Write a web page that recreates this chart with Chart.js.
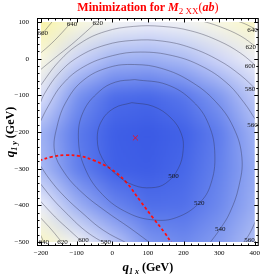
<!DOCTYPE html>
<html>
<head>
<meta charset="utf-8">
<script src="https://cdn.jsdelivr.net/npm/chart.js@4"></script>
<style>
html,body{margin:0;padding:0;background:#fff;}
#wrap{width:267px;height:277px;position:relative;}
</style>
</head>
<body>
<div id="wrap"><canvas id="chart"></canvas></div>
<script>
// density values, on a 100 GeV grid (rows top to bottom)
const gridX = [-200, -100, 0, 100, 200, 300, 400];
const gridY = [100, 0, -100, -200, -300, -400, -500];
const fieldRows = [
  [675, 635, 614, 604, 613, 630, 650],
  [630, 579, 558, 555, 563, 582, 607],
  [590, 537, 510, 505, 519, 542, 574],
  [557, 521, 495, 487, 500, 524, 559],
  [562, 525, 498, 492, 505, 527, 553],
  [603, 557, 530, 512, 514, 532, 556],
  [650, 613, 572, 540, 532, 545, 566]
];

// contour pieces [x, y] in GeV
const c500 = [[55,-120],[115,-130],[165,-162],[194,-205],[199,-250],[185,-300],[150,-340],[110,-352],[60,-345],[10,-315],[-28,-272],[-42,-220],[-30,-170],[5,-135],[55,-120]];
const c520 = [[63,-57],[154,-71],[226,-116],[271,-180],[288,-262],[276,-344],[244,-394],[181,-433],[118,-440],[45,-421],[-27,-371],[-77,-298],[-95,-216],[-81,-144],[-36,-89],[9,-64],[63,-57]];
const c540 = [[110,-505],[50,-462],[-20,-415],[-85,-365],[-135,-310],[-162,-253],[-155,-185],[-128,-115],[-80,-58],[-10,-24],[63,-16],[140,-27],[220,-62],[290,-117],[340,-187],[364,-270],[355,-350],[330,-420],[303,-464],[272,-505]];
const c560a = [[405,-171],[370,-120],[320,-65],[250,-20],[170,8],[80,18],[0,8],[-80,-22],[-140,-70],[-180,-130],[-205,-178]];
const c560b = [[-205,-287],[-175,-330],[-135,-375],[-85,-420],[-25,-468],[45,-505]];
const c560c = [[365,-505],[385,-478],[405,-437]];
const c580a = [[405,-85],[360,-45],[300,-5],[220,30],[140,48],[60,50],[-20,37],[-95,5],[-150,-40],[-190,-95],[-205,-128]];
const c580b = [[-205,-337],[-165,-385],[-125,-425],[-85,-462],[-45,-490],[-15,-505]];
const c600a = [[405,-21],[360,15],[300,48],[220,76],[140,88],[60,88],[-20,74],[-90,42],[-150,-8],[-205,-78]];
const c600b = [[-205,-385],[-160,-432],[-120,-468],[-78,-505]];
const c620a = [[-38,105],[-75,72],[-115,38],[-160,3],[-205,-33]];
const c620b = [[-205,-430],[-170,-467],[-138,-505]];
const c620c = [[405,31],[360,62],[300,88],[245,105]];
const c640a = [[-110,105],[-140,72],[-170,42],[-205,12]];
const c640b = [[-205,-473],[-190,-505]];
const c640c = [[405,79],[370,96],[342,105]];
const c660 = [[-165,105],[-182,85],[-205,57]];
const contourPieces = [c500, c520, c540, c560a, c560b, c560c, c580a, c580b, c600a, c600b, c620a, c620b, c620c, c640a, c640b, c640c, c660];

// contour labels: level, x, y
const contourLabels = [
  [660,-195,70],[640,-113,95],[620,-41,97],
  [640,394,79],[620,389,31],[600,387,-21],[580,387,-83],[560,394,-182],
  [500,172,-321],[520,244,-394],[540,303,-464],[560,385,-496],
  [640,-192,-500],[620,-140,-500],[600,-81,-496],[580,-18,-500]
];

// red dashed boundary and the minimum
const boundary = [[-205,-278],[-170,-268],[-130,-263],[-90,-266],[-50,-278],[0,-303],[40,-338],[80,-390],[115,-435],[145,-472],[168,-505]];
const minimum = [[65,-216]];

const colorStops = [
  [480,[55,85,228]],[500,[66,98,232]],[520,[90,120,236]],[540,[125,150,240]],
  [560,[165,182,244]],[580,[205,212,248]],[600,[234,236,251]],[620,[247,247,240]],
  [640,[250,248,212]],[670,[249,244,168]]
];

function colorFor(v) {
  if (v <= colorStops[0][0]) return colorStops[0][1];
  for (let i = 1; i < colorStops.length; i++) {
    const [v1, c1] = colorStops[i];
    if (v <= v1) {
      const [v0, c0] = colorStops[i - 1];
      const t = (v - v0) / (v1 - v0);
      return c0.map((c, k) => Math.round(c + (c1[k] - c) * t));
    }
  }
  return colorStops[colorStops.length - 1][1];
}

const toXY = arr => arr.map(p => ({x: p[0], y: p[1]}));
const serif = '"Liberation Serif", "DejaVu Serif", serif';

const densityPlugin = {
  id: 'density',
  beforeDatasetsDraw(chart) {
    const {ctx, chartArea: a, scales: {x, y}} = chart;
    const nx = gridX.length, ny = gridY.length;
    const off = document.createElement('canvas');
    off.width = nx; off.height = ny;
    const octx = off.getContext('2d');
    const img = octx.createImageData(nx, ny);
    for (let j = 0; j < ny; j++) {
      for (let i = 0; i < nx; i++) {
        const c = colorFor(fieldRows[j][i]);
        const k = (j * nx + i) * 4;
        img.data[k] = c[0]; img.data[k + 1] = c[1]; img.data[k + 2] = c[2]; img.data[k + 3] = 255;
      }
    }
    octx.putImageData(img, 0, 0);
    const dx = x.getPixelForValue(gridX[1]) - x.getPixelForValue(gridX[0]);
    const dy = y.getPixelForValue(gridY[1]) - y.getPixelForValue(gridY[0]);
    const left = x.getPixelForValue(gridX[0]) - dx / 2;
    const top = y.getPixelForValue(gridY[0]) - dy / 2;
    ctx.save();
    ctx.beginPath();
    ctx.rect(a.left, a.top, a.width, a.height);
    ctx.clip();
    ctx.imageSmoothingEnabled = true;
    ctx.filter = 'blur(4px)';
    ctx.drawImage(off, left, top, dx * nx, dy * ny);
    ctx.restore();
  }
};

function drawRich(ctx, segs, cx, base) {
  let w = 0;
  segs.forEach(s => { ctx.font = s.font; w += ctx.measureText(s.t).width; });
  let xx = cx - w / 2;
  segs.forEach(s => {
    ctx.font = s.font;
    ctx.fillText(s.t, xx, base + (s.dy || 0));
    xx += ctx.measureText(s.t).width;
  });
}

const framePlugin = {
  id: 'frame',
  afterDatasetsDraw(chart) {
    const {ctx, scales: {x, y}} = chart;
    ctx.save();
    ctx.fillStyle = '#111';
    ctx.font = '7px ' + serif;
    ctx.textAlign = 'center';
    ctx.textBaseline = 'middle';
    contourLabels.forEach(([lv, lx, ly]) => {
      ctx.fillText(String(lv), x.getPixelForValue(lx), y.getPixelForValue(ly));
    });
    ctx.restore();
  },
  afterDraw(chart) {
    const {ctx, chartArea: a, scales: {x, y}} = chart;
    const fl = a.left - 3.5, fr = a.right + 3.5, ft = a.top - 3.5, fb = a.bottom + 3.5;
    ctx.save();
    ctx.strokeStyle = '#000';
    ctx.lineWidth = 1;
    ctx.strokeRect(fl, ft, fr - fl, fb - ft);
    ctx.beginPath();
    for (let v = -200; v <= 400; v += 20) {
      const p = Math.round(x.getPixelForValue(v)) + 0.5;
      const len = v % 100 === 0 ? 4 : 2;
      ctx.moveTo(p, fb); ctx.lineTo(p, fb - len);
      ctx.moveTo(p, ft); ctx.lineTo(p, ft + len);
    }
    for (let v = -500; v <= 100; v += 20) {
      const p = Math.round(y.getPixelForValue(v)) + 0.5;
      const len = v % 100 === 0 ? 4 : 2;
      ctx.moveTo(fl, p); ctx.lineTo(fl + len, p);
      ctx.moveTo(fr, p); ctx.lineTo(fr - len, p);
    }
    ctx.stroke();

    // title
    ctx.fillStyle = '#ff0000';
    ctx.textAlign = 'left';
    ctx.textBaseline = 'alphabetic';
    const cx = (a.left + a.right) / 2;
    drawRich(ctx, [
      {t: 'Minimization for ', font: 'bold 12px ' + serif},
      {t: 'M', font: 'italic bold 12px ' + serif},
      {t: '2 XX', font: '9px ' + serif, dy: 3},
      {t: '(', font: '12px ' + serif},
      {t: 'ab', font: 'italic bold 12px ' + serif},
      {t: ')', font: '12px ' + serif}
    ], cx, 11);

    // axis titles
    ctx.fillStyle = '#000';
    drawRich(ctx, [
      {t: 'q', font: 'italic bold 13px ' + serif},
      {t: '1 x', font: 'italic bold 8px ' + serif, dy: 3},
      {t: ' (GeV)', font: 'bold 12px ' + serif}
    ], cx, 271);
    ctx.translate(13.5, (a.top + a.bottom) / 2);
    ctx.rotate(-Math.PI / 2);
    drawRich(ctx, [
      {t: 'q', font: 'italic bold 13px ' + serif},
      {t: '1 y', font: 'italic bold 8px ' + serif, dy: 3},
      {t: ' (GeV)', font: 'bold 12px ' + serif}
    ], 0, 0);
    ctx.restore();
  }
};

const tickFmt = v => (v < 0 ? '\u2212' + Math.abs(v) : String(v));

const datasets = contourPieces.map(piece => ({
  data: toXY(piece),
  showLine: true,
  pointRadius: 0,
  borderColor: 'rgba(45,45,70,0.5)',
  borderWidth: 0.75,
  tension: 0.4
}));
datasets.push({
  data: toXY(boundary),
  showLine: true,
  pointRadius: 0,
  borderColor: '#ff1010',
  borderWidth: 1.8,
  borderDash: [3, 2.5],
  tension: 0.4
});
datasets.push({
  data: toXY(minimum),
  showLine: false,
  pointStyle: 'crossRot',
  pointRadius: 3.5,
  borderColor: '#e8102a',
  borderWidth: 1
});

new Chart(document.getElementById('chart'), {
  type: 'scatter',
  data: {datasets},
  options: {
    responsive: true,
    maintainAspectRatio: false,
    animation: false,
    devicePixelRatio: 1,
    layout: {padding: {top: 22, right: 5, left: 0, bottom: 0}},
    plugins: {legend: {display: false}, tooltip: {enabled: false}},
    scales: {
      x: {
        type: 'linear', min: -200, max: 400,
        grid: {display: false, drawTicks: false},
        border: {display: false},
        ticks: {stepSize: 100, autoSkip: false, maxRotation: 0, padding: 7, color: '#000',
                font: {family: serif, size: 7}, callback: tickFmt},
        afterFit: s => { s.height = 35; }
      },
      y: {
        type: 'linear', min: -500, max: 100,
        grid: {display: false, drawTicks: false},
        border: {display: false},
        ticks: {stepSize: 100, autoSkip: false, padding: 12, color: '#000',
                font: {family: serif, size: 7}, callback: tickFmt},
        afterFit: s => { s.width = 41; }
      }
    }
  },
  plugins: [densityPlugin, framePlugin]
});
</script>
</body>
</html>
